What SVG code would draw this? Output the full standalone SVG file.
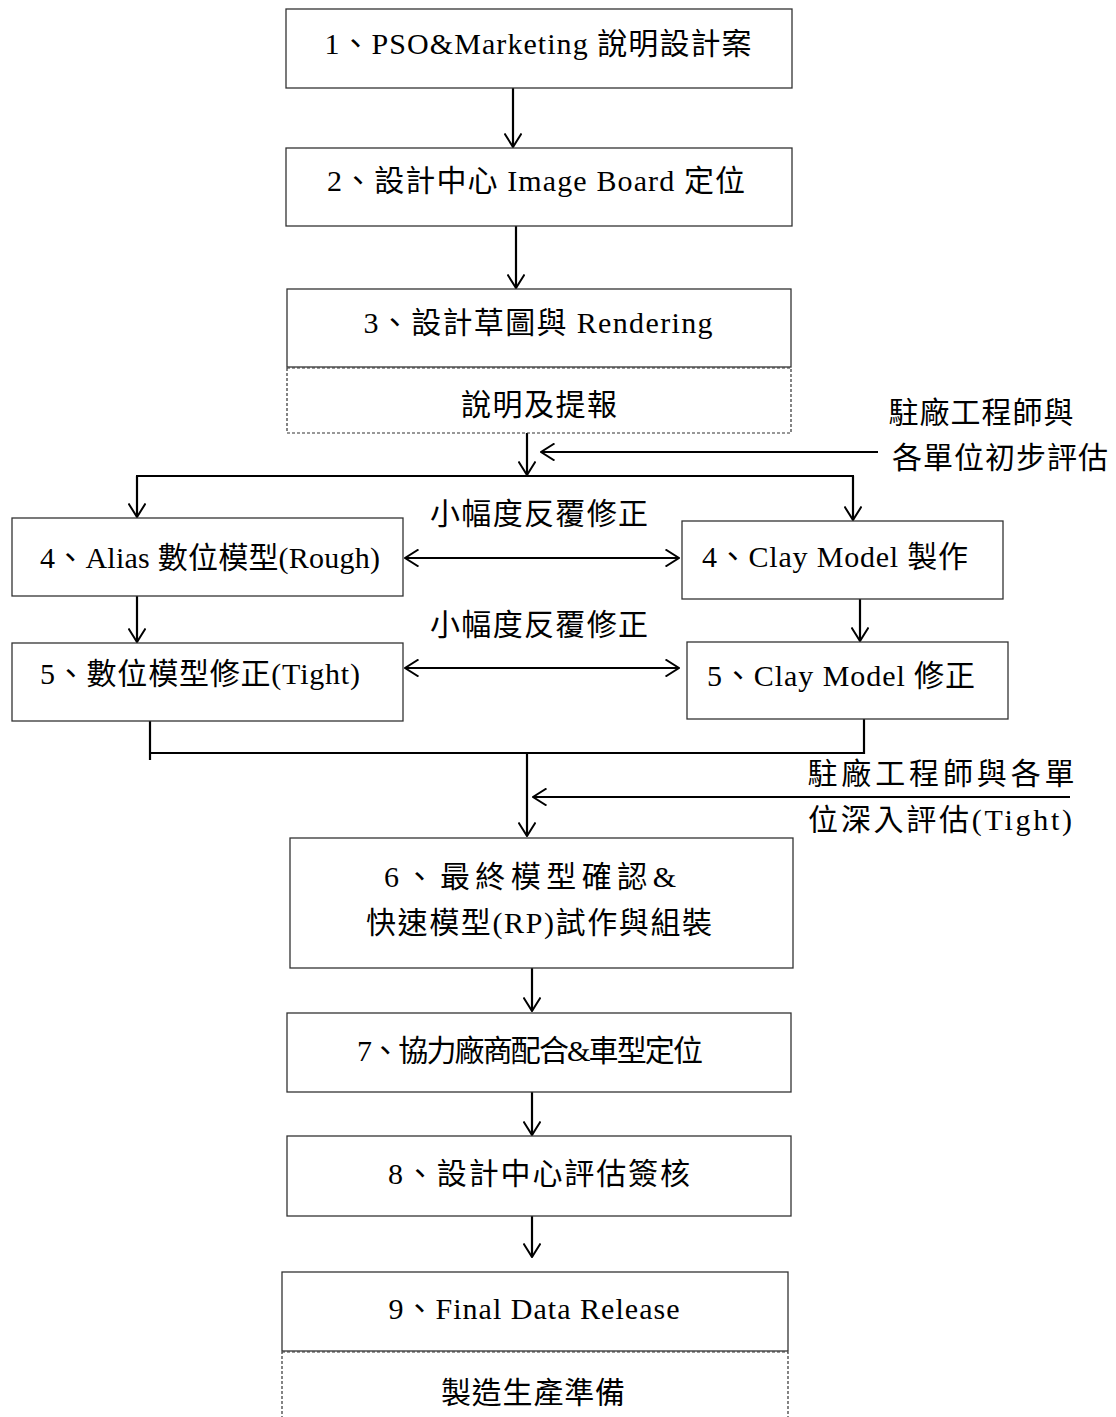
<svg xmlns="http://www.w3.org/2000/svg" width="1116" height="1417" viewBox="0 0 1116 1417">
<defs>
<marker id="ah" viewBox="0 0 15 18" refX="14" refY="9" markerWidth="15" markerHeight="18" markerUnits="userSpaceOnUse" orient="auto-start-reverse">
<path d="M0.5,0.5 L14,9 L0.5,17.5" fill="none" stroke="#000" stroke-width="2"/>
</marker>
<style>
.box{fill:#fff;stroke:#333;stroke-width:1.3}
.dot{fill:#fff;stroke:#333;stroke-width:1.2;stroke-dasharray:3,2}
.t{font-family:"Liberation Serif","Noto Sans CJK TC",serif;font-size:30px;fill:#000;text-anchor:middle;dominant-baseline:central}
.c{fill:none;stroke:#000;stroke-width:2.2}
.a{fill:none;stroke:#000;stroke-width:2.2;marker-end:url(#ah)}
.d{fill:none;stroke:#000;stroke-width:2.2;marker-end:url(#ah);marker-start:url(#ah)}
</style>
</defs>
<rect width="1116" height="1417" fill="#fff"/>
<g id="connectors">
<line class="a" x1="513" y1="88" x2="513" y2="147"/>
<line class="a" x1="516" y1="226" x2="516" y2="288"/>
<line class="a" x1="527" y1="433" x2="527" y2="475"/>
<line class="a" x1="878" y1="452" x2="541" y2="452"/>
<line class="c" x1="136" y1="476" x2="854" y2="476"/>
<line class="a" x1="137" y1="476" x2="137" y2="517"/>
<line class="a" x1="853" y1="476" x2="853" y2="520"/>
<line class="d" x1="405" y1="558" x2="679" y2="558"/>
<line class="a" x1="137" y1="596" x2="137" y2="642"/>
<line class="a" x1="860" y1="599" x2="860" y2="641"/>
<line class="d" x1="405" y1="668" x2="679" y2="668"/>
<line class="c" x1="150" y1="721" x2="150" y2="760"/>
<line class="c" x1="864" y1="719" x2="864" y2="754"/>
<line class="c" x1="150" y1="753" x2="865" y2="753"/>
<line class="a" x1="527" y1="753" x2="527" y2="836"/>
<line class="a" x1="1070" y1="797" x2="533" y2="797"/>
<line class="a" x1="532" y1="968" x2="532" y2="1011"/>
<line class="a" x1="532" y1="1092" x2="532" y2="1135"/>
<line class="a" x1="532" y1="1216" x2="532" y2="1257"/>
</g>
<g id="n1"><rect class="box" x="286" y="9" width="506" height="79"/><text class="t" x="538" y="43" textLength="427" lengthAdjust="spacing">1、PSO&amp;Marketing 說明設計案</text></g>
<g id="n2"><rect class="box" x="286" y="148" width="506" height="78"/><text class="t" x="536" y="180" textLength="418" lengthAdjust="spacing">2、設計中心 Image Board 定位</text></g>
<g id="n3"><rect class="box" x="287" y="289" width="504" height="78"/><text class="t" x="538" y="322" textLength="349" lengthAdjust="spacing">3、設計草圖與 Rendering</text></g>
<g id="n3b"><rect class="dot" x="287" y="368" width="504" height="65"/><text class="t" x="539" y="404" textLength="156" lengthAdjust="spacing">說明及提報</text></g>
<g id="lab1"><text class="t" x="981" y="412" textLength="185" lengthAdjust="spacing">駐廠工程師與</text><text class="t" x="1000" y="457" textLength="216" lengthAdjust="spacing">各單位初步評估</text></g>
<g id="lab2"><text class="t" x="539" y="513" textLength="218" lengthAdjust="spacing">小幅度反覆修正</text></g>
<g id="n4l"><rect class="box" x="12" y="518" width="391" height="78"/><text class="t" x="210" y="557" textLength="340" lengthAdjust="spacing">4、Alias 數位模型(Rough)</text></g>
<g id="n4r"><rect class="box" x="682" y="521" width="321" height="78"/><text class="t" x="835" y="556" textLength="266" lengthAdjust="spacing">4、Clay Model 製作</text></g>
<g id="lab3"><text class="t" x="539" y="624" textLength="218" lengthAdjust="spacing">小幅度反覆修正</text></g>
<g id="n5l"><rect class="box" x="12" y="643" width="391" height="78"/><text class="t" x="200" y="673" textLength="320" lengthAdjust="spacing">5、數位模型修正(Tight)</text></g>
<g id="n5r"><rect class="box" x="687" y="642" width="321" height="77"/><text class="t" x="841" y="675" textLength="268" lengthAdjust="spacing">5、Clay Model 修正</text></g>
<g id="lab4"><text class="t" x="941" y="773" textLength="267" lengthAdjust="spacing">駐廠工程師與各單</text><text class="t" x="940" y="819" textLength="264" lengthAdjust="spacing">位深入評估(Tight)</text></g>
<g id="n6"><rect class="box" x="290" y="838" width="503" height="130"/><text class="t" x="530" y="876" textLength="292" lengthAdjust="spacing">6、最終模型確認&amp;</text><text class="t" x="539" y="922" textLength="346" lengthAdjust="spacing">快速模型(RP)試作與組裝</text></g>
<g id="n7"><rect class="box" x="287" y="1013" width="504" height="79"/><text class="t" x="530" y="1050" textLength="346" lengthAdjust="spacing">7、協力廠商配合&amp;車型定位</text></g>
<g id="n8"><rect class="box" x="287" y="1136" width="504" height="80"/><text class="t" x="539" y="1173" textLength="302" lengthAdjust="spacing">8、設計中心評估簽核</text></g>
<g id="n9"><rect class="box" x="282" y="1272" width="506" height="79"/><text class="t" x="534" y="1308" textLength="291" lengthAdjust="spacing">9、Final Data Release</text></g>
<g id="n9b"><rect class="dot" x="282" y="1352" width="506" height="80"/><text class="t" x="533" y="1392" textLength="184" lengthAdjust="spacing">製造生產準備</text></g>
</svg>
